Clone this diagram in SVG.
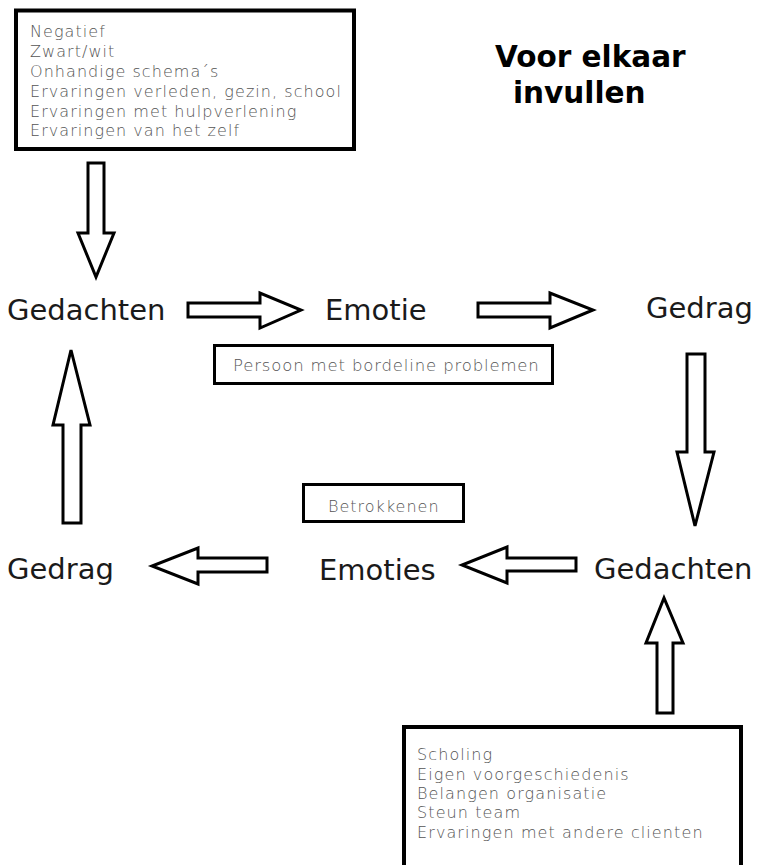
<svg xmlns="http://www.w3.org/2000/svg" width="757" height="865" viewBox="0 0 757 865">
<style>
.box{fill:#fff;stroke:#000;}
.lbl{font-family:"DejaVu Sans","Liberation Sans",sans-serif;font-size:29px;fill:#1a1a1a;}
.sm{font-family:"DejaVu Sans","Liberation Sans",sans-serif;font-weight:200;fill:#555;}
.title{font-family:"DejaVu Sans","Liberation Sans",sans-serif;font-weight:bold;font-size:29.5px;fill:#000;}
.arr{fill:#fff;stroke:#000;stroke-width:3;stroke-linejoin:miter;}
</style>
<rect width="757" height="865" fill="#fff"/>
<g id="invloeden-top">
<rect class="box" x="16" y="10.5" width="338" height="138.5" stroke-width="4"/>
<text class="sm" font-size="16" letter-spacing="1.05">
<tspan x="30" y="37">Negatief</tspan>
<tspan x="30" y="57">Zwart/wit</tspan>
<tspan x="30" y="77">Onhandige schema´s</tspan>
<tspan x="30" y="97">Ervaringen verleden, gezin, school</tspan>
<tspan x="30" y="117">Ervaringen met hulpverlening</tspan>
<tspan x="30" y="136">Ervaringen van het zelf</tspan>
</text>
</g>
<g id="title"><text class="title"><tspan x="495" y="67">Voor elkaar</tspan><tspan x="513" y="103">invullen</tspan></text></g>
<g id="gedachten-1"><text class="lbl" x="7" y="320">Gedachten</text></g>
<g id="emotie-1"><text class="lbl" x="325" y="320">Emotie</text></g>
<g id="gedrag-1"><text class="lbl" x="646" y="318">Gedrag</text></g>
<g id="persoon">
<rect class="box" x="214.5" y="345.5" width="338" height="38" stroke-width="3"/>
<text class="sm" font-size="16.5" letter-spacing="0.85" x="233" y="371">Persoon met bordeline problemen</text>
</g>
<g id="betrokkenen">
<rect class="box" x="303.5" y="484.5" width="160" height="37" stroke-width="3"/>
<text class="sm" font-size="16" letter-spacing="1" x="328" y="512">Betrokkenen</text>
</g>
<g id="gedrag-2"><text class="lbl" x="7" y="579">Gedrag</text></g>
<g id="emoties-2"><text class="lbl" x="319" y="580">Emoties</text></g>
<g id="gedachten-2"><text class="lbl" x="594" y="579">Gedachten</text></g>
<g id="invloeden-bottom">
<rect class="box" x="404" y="727" width="337" height="160" stroke-width="4"/>
<text class="sm" font-size="16" letter-spacing="1.1">
<tspan x="417" y="760">Scholing</tspan>
<tspan x="417" y="780">Eigen voorgeschiedenis</tspan>
<tspan x="417" y="799">Belangen organisatie</tspan>
<tspan x="417" y="818">Steun team</tspan>
<tspan x="417" y="838">Ervaringen met andere clienten</tspan>
</text>
</g>
<g id="connectors">
<polygon class="arr" points="88,163 104,163 104,233 114,233 96,277 78,233 88,233"/>
<polygon class="arr" points="188,303 260,303 260,293 301,310 260,328 260,317 188,317"/>
<polygon class="arr" points="478,303 550,303 550,293 593,310 550,328 550,317 478,317"/>
<polygon class="arr" points="687,354 705,354 705,452 714,452 695,526 677,452 687,452"/>
<polygon class="arr" points="63,523 81,523 81,425 90,425 71,350 53,425 63,425"/>
<polygon class="arr" points="267,558 267,572 198,572 198,584 152,566 198,548 198,558"/>
<polygon class="arr" points="576,558 576,571 507,571 507,583 462,565 507,547 507,558"/>
<polygon class="arr" points="657,713 673,713 673,643 683,643 664,598 646,643 657,643"/>
</g>
</svg>
